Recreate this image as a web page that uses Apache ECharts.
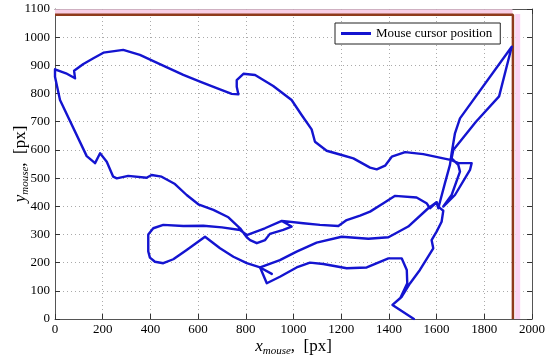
<!DOCTYPE html>
<html>
<head>
<meta charset="utf-8">
<script src="https://cdn.jsdelivr.net/npm/echarts@6/dist/echarts.min.js"></script>
<style>html,body{margin:0;padding:0;background:#fff}#c{width:550px;height:361px}</style>
</head>
<body>
<div id="c"></div>
<script>
// ---- data (pixel positions of the mouse cursor) ----
const xTicks = [0, 200, 400, 600, 800, 1000, 1200, 1400, 1600, 1800, 2000];
const yTicks = [0, 100, 200, 300, 400, 500, 600, 700, 800, 900, 1000, 1100];

// stub -> lower loop -> curl -> left descent -> top arc -> right loop -> apex -> middle upper line
const pathA = [
  [909,160],[860,183],[804,198],[748,221],[692,251],[629,292],[552,245],[496,212],[454,198],[419,203],
  [398,218],[391,240],[391,300],[412,322],[454,334],[538,330],[622,331],[700,325],[776,316],[804,298],
  [880,322],[951,348],[992,328],[957,316],[901,302],[881,280],[846,269],[818,280],[804,290],[776,322],
  [727,361],[664,387],[601,407],[552,440],[503,479],[447,505],[405,511],[384,501],[307,508],[259,499],
  [244,505],[217,558],[189,588],[168,553],[133,578],[21,777],[0,860],[0,886],[46,872],[84,854],
  [80,881],[119,905],[161,925],[203,945],[286,955],[356,937],[426,910],[538,866],[608,842],[678,819],
  [741,799],[769,797],[762,824],[762,848],[790,870],[839,866],[915,827],[992,777],[1034,724],[1076,673],
  [1090,629],[1139,597],[1202,582],[1251,570],[1321,537],[1349,531],[1384,544],[1412,576],[1468,592],[1544,585],
  [1628,570],[1663,564],[1691,553],[1747,553],[1740,529],[1677,440],[1628,399],[1621,393],[1663,440],[1698,523],
  [1691,547],[1663,570],[1670,600],[1765,700],[1862,790],[1915,966],[1698,712],[1677,659],[1663,588],[1656,547],
  [1635,482],[1607,393],[1600,414],[1572,393],[1558,411],[1516,431],[1426,437],[1377,411],[1321,381],[1279,367],
  [1223,351],[1188,330],[1111,334],[1041,340],[951,348]
];
// bottom edge -> lower line -> middle lower line -> right descent
const pathB = [
  [1505,0],[1415,50],[1447,73],[1477,127],[1475,174],[1454,215],[1398,215],[1307,183],[1223,180],[1125,195],
  [1069,200],[1013,183],[943,150],[888,127],[860,183],[943,209],[1013,239],[1097,271],[1202,292],[1314,285],
  [1398,290],[1481,328],[1565,393],[1600,414],[1612,395],[1628,384],[1621,345],[1600,310],[1579,280],[1586,251],
  [1530,174],[1489,127],[1454,79],[1415,50]
];
// screen boundary (1920 x 1080)
const screenEdge = [[0,1080],[1920,1080],[1920,0]];
const edgeGlowV = [[1940,0],[1940,1082]];
const edgeGlowH = [[0,1090],[1918,1090]];

const serif = 'Liberation Serif';
const blue = '#1414d0';
const name = 'Mouse cursor position';

function bgAxis(pos, isX) {
  return {
    type: 'value', position: pos, min: 0, max: isX ? 2000 : 1100, interval: isX ? 200 : 100,
    axisLine: {show: true, onZero: false, lineStyle: {color: '#555', width: 1}},
    axisTick: {show: true, inside: true, length: 5, lineStyle: {color: '#333'}},
    axisLabel: {show: false}, splitLine: {show: false}
  };
}

const rich = {
  i: {fontFamily: serif, fontStyle: 'italic', fontSize: 17, color: '#000'},
  s: {fontFamily: serif, fontStyle: 'italic', fontSize: 11, color: '#000', padding: [9, 0, 0, 0]},
  n: {fontFamily: serif, fontSize: 17, color: '#000'}
};

const chart = echarts.init(document.getElementById('c'), null, {renderer: 'canvas'});
chart.setOption({
  animation: false,
  backgroundColor: '#fff',
  grid: {left: 55, right: 18, top: 9, bottom: 42, containLabel: false, outerBoundsMode: 'none'},
  legend: {
    data: [{name: name, icon: 'rect'}], left: 335, top: 23,
    padding: [4, 8, 4, 6], itemWidth: 30, itemHeight: 3, itemGap: 5,
    borderColor: '#222', borderWidth: 1, backgroundColor: '#fff',
    textStyle: {fontFamily: serif, fontSize: 13, color: '#000'}
  },
  xAxis: [{
    type: 'value', min: 0, max: 2000, interval: 200, position: 'bottom',
    name: '{i|x}{s|mouse}{n|,  [px]}', nameLocation: 'middle', nameGap: 18, nameMoveOverlap: false,
    nameTextStyle: {rich: rich},
    axisLine: {show: true, onZero: false, lineStyle: {color: '#555', width: 1}},
    axisTick: {show: true, inside: true, length: 5, lineStyle: {color: '#333'}},
    axisLabel: {fontFamily: serif, fontSize: 13, color: '#000', margin: 4,
      formatter: v => xTicks.includes(v) ? String(v) : ''},
    splitLine: {show: true, lineStyle: {color: '#aaa', type: [1, 3], width: 1}}
  }, bgAxis('top', true)],
  yAxis: [{
    type: 'value', min: 0, max: 1100, interval: 100, position: 'left',
    name: '{i|y}{s|mouse}{n|,  [px]}', nameLocation: 'middle', nameGap: 24, nameRotate: 90, nameMoveOverlap: false,
    nameTextStyle: {rich: rich},
    axisLine: {show: true, onZero: false, lineStyle: {color: '#555', width: 1}},
    axisTick: {show: true, inside: true, length: 5, lineStyle: {color: '#333'}},
    axisLabel: {fontFamily: serif, fontSize: 13, color: '#000', margin: 5,
      formatter: v => yTicks.includes(v) ? String(v) : ''},
    splitLine: {show: true, lineStyle: {color: '#aaa', type: [1, 3], width: 1}}
  }, bgAxis('right', false)],
  series: [
    {name: 'glowV', type: 'line', data: edgeGlowV, symbol: 'none', silent: true, clip: false,
     lineStyle: {color: '#fbd6f4', width: 5}, z: 1},
    {name: 'glowH', type: 'line', data: edgeGlowH, symbol: 'none', silent: true, clip: false,
     lineStyle: {color: '#f8cfe6', width: 5}, z: 1},
    {name: 'screen', type: 'line', data: screenEdge, symbol: 'none', silent: true,
     lineStyle: {color: '#8f3b1c', width: 2.5}, z: 2},
    {name: name, type: 'line', data: pathA, symbol: 'none', showSymbol: false,
     lineStyle: {color: blue, width: 2.4, join: 'round', cap: 'round'}, itemStyle: {color: blue}, z: 3},
    {name: name, type: 'line', data: pathB, symbol: 'none', showSymbol: false,
     lineStyle: {color: blue, width: 2.4, join: 'round', cap: 'round'}, itemStyle: {color: blue}, z: 3}
  ]
});
</script>
</body>
</html>
